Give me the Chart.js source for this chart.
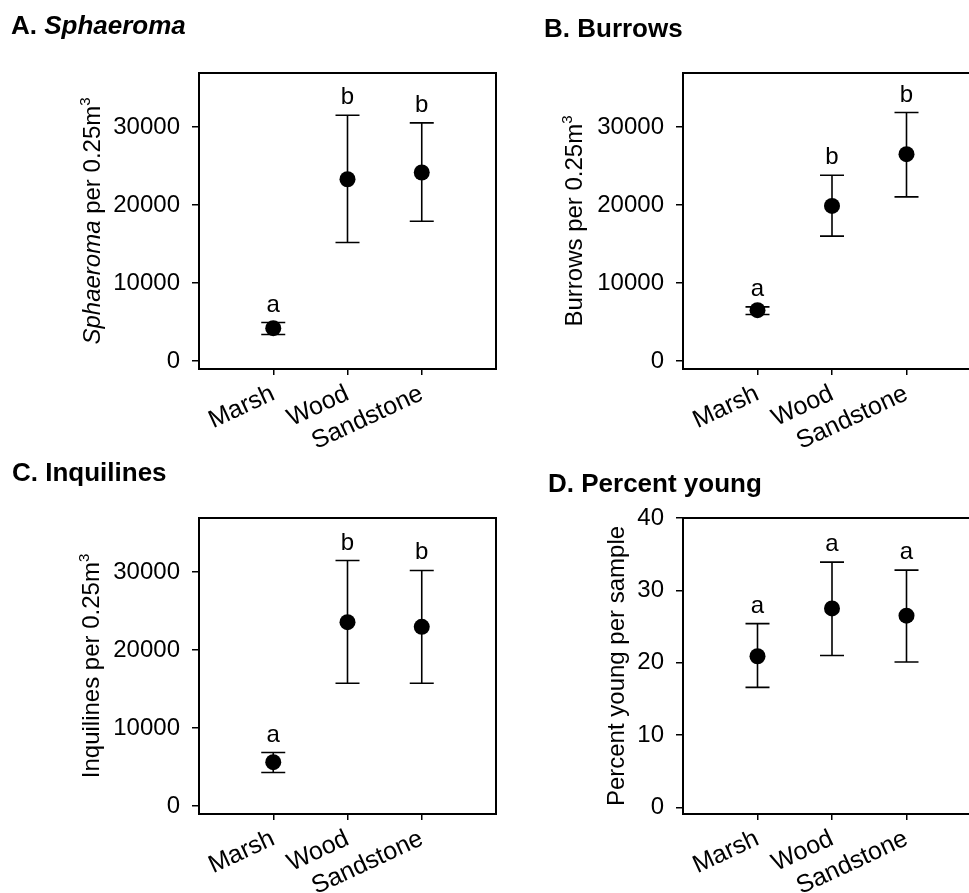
<!DOCTYPE html>
<html>
<head>
<meta charset="utf-8">
<script src="https://cdn.jsdelivr.net/npm/chart.js@4.4.1/dist/chart.umd.min.js"></script>
<style>
  html, body { margin: 0; padding: 0; background: #fff; overflow: hidden; }
  #wrap { position: relative; width: 969px; height: 893px; overflow: hidden; }
  #wrap canvas { position: absolute; left: 0; top: 0; }
</style>
</head>
<body>
<div id="wrap">
  <canvas id="chartA" width="1000" height="893"></canvas>
  <canvas id="chartB" width="1000" height="893"></canvas>
  <canvas id="chartC" width="1000" height="893"></canvas>
  <canvas id="chartD" width="1000" height="893"></canvas>
</div>
<script>
// data (mean, upper / lower end of the error bar)
const categories = ["Marsh", "Wood", "Sandstone"];

const sphaeromaMean  = [4230, 23330, 24190];
const sphaeromaUpper = [4960, 31540, 30550];
const sphaeromaLower = [3420, 15210, 17950];
const sphaeromaLetters = ["a", "b", "b"];

const burrowsMean  = [6540, 19910, 26540];
const burrowsUpper = [6960, 23850, 31880];
const burrowsLower = [5980, 16030, 21070];
const burrowsLetters = ["a", "b", "b"];

const inquilinesMean  = [5640, 23590, 23000];
const inquilinesUpper = [6880, 31500, 30220];
const inquilinesLower = [4320, 15770, 15770];
const inquilinesLetters = ["a", "b", "b"];

const youngMean  = [20.9, 27.5, 26.5];
const youngUpper = [25.4, 33.9, 32.8];
const youngLower = [16.6, 21.0, 20.1];
const youngLetters = ["a", "a", "a"];

const densityTicks = [0, 10000, 20000, 30000];
const percentTicks = [0, 10, 20, 30, 40];

const FONT = "'Liberation Sans', Arial, Helvetica, sans-serif";
const CW = 1000, CH = 893;
const Y_AXIS_W = 95, X_AXIS_H = 80;

function partFont(p, size) {
  const s = p.sup ? Math.round(size * 0.62) : size;
  return (p.italic ? "italic " : "") + (p.bold ? "bold " : "") + s + "px " + FONT;
}

// draws mixed-style text (italic words, superscript) along a baseline
function richText(ctx, parts, x, y, size, center) {
  let w = 0;
  parts.forEach(p => { ctx.font = partFont(p, size); w += ctx.measureText(p.text).width; });
  let cx = center ? x - w / 2 : x;
  ctx.textAlign = "left";
  ctx.textBaseline = "alphabetic";
  parts.forEach(p => {
    ctx.font = partFont(p, size);
    ctx.fillText(p.text, cx, p.sup ? y - size * 0.42 : y);
    cx += ctx.measureText(p.text).width;
  });
}

function panelPlugin(cfg) {
  return {
    id: "panel",
    beforeDatasetsDraw(chart) {
      const { ctx, scales: { x, y } } = chart;
      ctx.save();
      ctx.strokeStyle = "#000";
      ctx.lineWidth = 1.6;
      cfg.mean.forEach((m, i) => {
        const px = x.getPixelForValue(i + 1);
        const top = y.getPixelForValue(cfg.upper[i]);
        const bot = y.getPixelForValue(cfg.lower[i]);
        ctx.beginPath();
        ctx.moveTo(px, top); ctx.lineTo(px, bot);
        ctx.moveTo(px - 12, top); ctx.lineTo(px + 12, top);
        ctx.moveTo(px - 12, bot); ctx.lineTo(px + 12, bot);
        ctx.stroke();
      });
      ctx.restore();
    },
    afterDraw(chart) {
      const { ctx, chartArea: a, scales: { x, y } } = chart;
      ctx.save();
      // frame
      ctx.strokeStyle = "#000";
      ctx.lineWidth = 2;
      ctx.strokeRect(a.left, a.top, a.right - a.left, a.bottom - a.top);
      // significance letters
      ctx.fillStyle = "#000";
      ctx.font = "24px " + FONT;
      ctx.textAlign = "center";
      ctx.textBaseline = "alphabetic";
      cfg.letters.forEach((l, i) => {
        ctx.fillText(l, x.getPixelForValue(i + 1), y.getPixelForValue(cfg.upper[i]) - 11);
      });
      // panel title
      richText(ctx, cfg.title, cfg.titleX, cfg.titleY, 26, false);
      // y axis title
      ctx.translate(cfg.yTitleX, (a.top + a.bottom) / 2);
      ctx.rotate(-Math.PI / 2);
      richText(ctx, cfg.yTitle, 0, 0, 24, true);
      ctx.restore();
    }
  };
}

const panels = [
  { id: "chartA", mean: sphaeromaMean, upper: sphaeromaUpper, lower: sphaeromaLower, letters: sphaeromaLetters,
    ticks: densityTicks, yMin: -1000, yMax: 36950, box: { l: 199, t: 73, r: 496, b: 369 },
    title: [{ text: "A. ", bold: true }, { text: "Sphaeroma", bold: true, italic: true }], titleX: 11, titleY: 34,
    yTitle: [{ text: "Sphaeroma", italic: true }, { text: " per 0.25m" }, { text: "3", sup: true }], yTitleX: 100 },
  { id: "chartB", mean: burrowsMean, upper: burrowsUpper, lower: burrowsLower, letters: burrowsLetters,
    ticks: densityTicks, yMin: -1000, yMax: 36950, box: { l: 683, t: 73, r: 981, b: 369 },
    title: [{ text: "B. Burrows", bold: true }], titleX: 544, titleY: 37,
    yTitle: [{ text: "Burrows per 0.25m" }, { text: "3", sup: true }], yTitleX: 582 },
  { id: "chartC", mean: inquilinesMean, upper: inquilinesUpper, lower: inquilinesLower, letters: inquilinesLetters,
    ticks: densityTicks, yMin: -1000, yMax: 36950, box: { l: 199, t: 518, r: 496, b: 814 },
    title: [{ text: "C. Inquilines", bold: true }], titleX: 12, titleY: 481,
    yTitle: [{ text: "Inquilines per 0.25m" }, { text: "3", sup: true }], yTitleX: 99 },
  { id: "chartD", mean: youngMean, upper: youngUpper, lower: youngLower, letters: youngLetters,
    ticks: percentTicks, yMin: -0.9, yMax: 40, box: { l: 683, t: 518, r: 981, b: 814 },
    title: [{ text: "D. Percent young", bold: true }], titleX: 548, titleY: 492,
    yTitle: [{ text: "Percent young per sample" }], yTitleX: 624 }
];

panels.forEach(cfg => {
  const ctx = document.getElementById(cfg.id).getContext("2d");
  new Chart(ctx, {
    type: "scatter",
    data: {
      datasets: [{
        data: cfg.mean.map((m, i) => ({ x: i + 1, y: m })),
        pointRadius: 8,
        pointHoverRadius: 8,
        pointBackgroundColor: "#000",
        pointBorderWidth: 0
      }]
    },
    options: {
      responsive: false,
      animation: false,
      events: [],
      layout: {
        padding: {
          left: cfg.box.l - Y_AXIS_W,
          top: cfg.box.t,
          right: CW - cfg.box.r,
          bottom: CH - cfg.box.b - X_AXIS_H
        }
      },
      plugins: { legend: { display: false }, tooltip: { enabled: false } },
      scales: {
        x: {
          type: "linear", min: 0, max: 4,
          afterBuildTicks: s => { s.ticks = categories.map((c, i) => ({ value: i + 1 })); },
          afterFit: s => { s.height = X_AXIS_H; },
          ticks: {
            autoSkip: false, minRotation: 25, maxRotation: 25, padding: 4, color: "#000",
            font: { family: FONT, size: 25 },
            callback: v => categories[v - 1]
          },
          grid: { drawOnChartArea: false, drawTicks: true, tickLength: 6, color: "#000", lineWidth: 1.5 },
          border: { display: false }
        },
        y: {
          min: cfg.yMin, max: cfg.yMax,
          afterBuildTicks: s => { s.ticks = cfg.ticks.map(v => ({ value: v })); },
          afterFit: s => { s.width = Y_AXIS_W; },
          ticks: { padding: 12, color: "#000", font: { family: FONT, size: 24 }, callback: v => String(v) },
          grid: { drawOnChartArea: false, drawTicks: true, tickLength: 7, color: "#000", lineWidth: 1.5 },
          border: { display: false }
        }
      }
    },
    plugins: [panelPlugin(cfg)]
  });
});
</script>
</body>
</html>
